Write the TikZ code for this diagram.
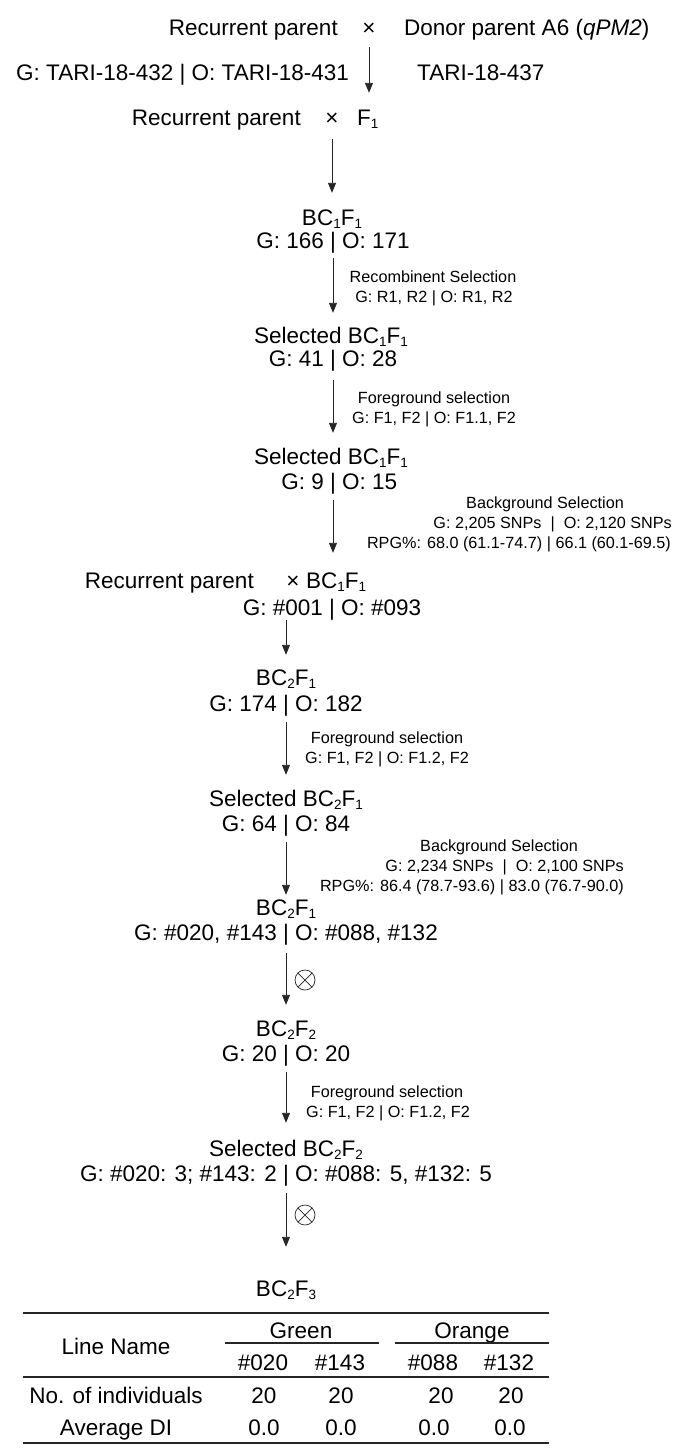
\documentclass[tikz,border=0pt]{standalone}
\usepackage{fontspec}
\setmainfont{Liberation Sans}
\usetikzlibrary{arrows.meta}
\newcommand{\gopair}[2]{\makebox[0pt][r]{#1\ }|\makebox[0pt][l]{\ #2}}
\newcommand{\sbs}[1]{\raisebox{-3pt}{\fontsize{13.5}{13.5}\selectfont #1}}
\tikzset{
  big/.style={font=\fontsize{22.5}{24}\selectfont, inner sep=0pt, text height=16pt, text depth=0pt},
  small/.style={font=\fontsize{16.2}{20}\selectfont, inner sep=0pt, text height=11.6pt, text depth=0pt},
  flow/.style={draw=black!85, line width=0.9pt, -{Triangle[length=10pt,width=8pt]}, shorten <=11pt, shorten >=15pt},
  rulethick/.style={line width=1.8pt, draw=black!85},
  rulethin/.style={line width=1.4pt, draw=black!85},
  selfing/.style={circle, draw=black!85, line width=0.7pt, minimum size=20pt, inner sep=0pt,
    path picture={\draw[line width=0.7pt, black!85]
      (path picture bounding box.north west) -- (path picture bounding box.south east)
      (path picture bounding box.north east) -- (path picture bounding box.south west);}}
}
\begin{document}
\begin{tikzpicture}[x=1pt,y=-1pt]
\fill[white] (0,0) rectangle (685,1454);
\useasboundingbox (0,0) rectangle (685,1454);

% top crosses
\node[big, anchor=east] (rp1) at (338,27) {Recurrent parent};
\node[big] (x1) at (369,27) {×};
\node[big, anchor=west] (donor) at (404,27) {Donor parent A6 (\textit{qPM2})};
\node[big, anchor=east] (gotari) at (349,72) {G: TARI-18-432 | O: TARI-18-431};
\node[big, anchor=west] (tari437) at (417,72) {TARI-18-437};
\node[big, anchor=east] (rp2) at (301,117) {Recurrent parent};
\node[big] (x2) at (332,117) {×};
\node[big, anchor=west] (f1) at (357,117) {F\sbs{1}};

% BC1
\node[big] (bc1) at (332,217) {BC\sbs{1}F\sbs{1}};
\node[big] (g166) at (333,240) {\gopair{G: 166}{O: 171}};
\node[small] (rec1) at (433,277) {Recombinent Selection};
\node[small] (rec2) at (434,297) {G: R1, R2 | O: R1, R2};
\node[big] (sel1) at (331,335) {Selected BC\sbs{1}F\sbs{1}};
\node[big] (g41) at (333,358) {\gopair{G: 41}{O: 28}};
\node[small] (fg1a) at (434,398) {Foreground selection};
\node[small] (fg1b) at (434,418) {G: F1, F2 | O: F1.1, F2};
\node[big] (sel2) at (331,456) {Selected BC\sbs{1}F\sbs{1}};
\node[big] (g9) at (333,481) {\gopair{G: 9}{O: 15}};
\node[small] (bg1a) at (545,503) {Background Selection};
\node[small, anchor=east] (bg1b) at (672,523) {G: 2,205 SNPs\ \ |\ \ O: 2,120 SNPs};
\node[small, anchor=east] (bg1c) at (671,543) {RPG\%: 68.0 (61.1-74.7) | 66.1 (60.1-69.5)};

% BC2
\node[big, anchor=east] (rp3) at (254,580) {Recurrent parent};
\node[big] (x3) at (293,580) {×};
\node[big, anchor=west] (bc1b) at (306,580) {BC\sbs{1}F\sbs{1}};
\node[big] (g001) at (332,607) {\gopair{G: \#001}{O: \#093}};
\node[big] (bc2) at (286,677) {BC\sbs{2}F\sbs{1}};
\node[big] (g174) at (286,703) {\gopair{G: 174}{O: 182}};
\node[small] (fg2a) at (387,738) {Foreground selection};
\node[small] (fg2b) at (387,758) {G: F1, F2 | O: F1.2, F2};
\node[big] (sel3) at (286,798) {Selected BC\sbs{2}F\sbs{1}};
\node[big] (g64) at (286,823) {\gopair{G: 64}{O: 84}};
\node[small] (bg2a) at (499,846) {Background Selection};
\node[small, anchor=east] (bg2b) at (624,866) {G: 2,234 SNPs\ \ |\ \ O: 2,100 SNPs};
\node[small, anchor=east] (bg2c) at (624,886) {RPG\%: 86.4 (78.7-93.6) | 83.0 (76.7-90.0)};
\node[big] (bc2b) at (286,907) {BC\sbs{2}F\sbs{1}};
\node[big] (g020) at (286,932) {\gopair{G: \#020, \#143}{O: \#088, \#132}};
\node[selfing] (s1) at (305,980) {};
\node[big] (bc22) at (286,1028) {BC\sbs{2}F\sbs{2}};
\node[big] (g20) at (286,1053) {\gopair{G: 20}{O: 20}};
\node[small] (fg3a) at (387,1092) {Foreground selection};
\node[small] (fg3b) at (388,1112) {G: F1, F2 | O: F1.2, F2};
\node[big] (sel4) at (286,1148) {Selected BC\sbs{2}F\sbs{2}};
\node[big] (gsel) at (286,1173) {\gopair{G: \#020: 3; \#143: 2}{O: \#088: 5, \#132: 5}};
\node[selfing] (s2) at (305,1215) {};
\node[big] (bc23) at (286,1288) {BC\sbs{2}F\sbs{3}};

% arrows
\draw[flow, shorten <=12pt, shorten >=16pt] (x1.south) -- (x1.south |- f1.north);
\draw[flow, shorten <=14pt, shorten >=16pt] (x2.south) -- (x2.south |- bc1.north);
\draw[flow, shorten <=10pt, shorten >=14pt] (g166.south) -- (g166.south |- sel1.north);
\draw[flow, shorten <=14pt] (g41.south) -- (g41.south |- sel2.north);
\draw[flow, shorten >=19pt] (g9.south) -- (g9.south |- bc1b.north);
\draw[flow, shorten <=5pt, shorten >=14pt] (g001.south -| bc2.north) -- (bc2.north);
\draw[flow] (g174.south) -- (g174.south |- sel3.north);
\draw[flow, shorten >=4pt] (g64.south) -- (g64.south |- bc2b.north);
\draw[flow, shorten <=13pt] (g020.south) -- (g020.south |- bc22.north);
\draw[flow, shorten >=17pt] (g20.south) -- (g20.south |- sel4.north);
\draw[flow, shorten <=12pt, shorten >=33pt] (gsel.south) -- (gsel.south |- bc23.north);

% table
\draw[rulethick] (23,1313) -- (549,1313);
\node[big] (tln) at (116,1346) {Line Name};
\node[big] (tgreen) at (301,1330) {Green};
\node[big] (torange) at (472,1330) {Orange};
\draw[rulethin] (225,1343) -- (379,1343);
\draw[rulethin] (395,1343) -- (549,1343);
\node[big] (t020) at (263,1362) {\#020};
\node[big] (t143) at (340,1362) {\#143};
\node[big] (t088) at (433,1362) {\#088};
\node[big] (t132) at (509,1362) {\#132};
\draw[rulethick] (23,1377) -- (549,1377);
\node[big] (tno) at (116,1395) {No. of individuals};
\node[big] (n1) at (264,1395) {20};
\node[big] (n2) at (341,1395) {20};
\node[big] (n3) at (441,1395) {20};
\node[big] (n4) at (511,1395) {20};
\node[big] (tavg) at (116,1427) {Average DI};
\node[big] (a1) at (264,1427) {0.0};
\node[big] (a2) at (341,1427) {0.0};
\node[big] (a3) at (434,1427) {0.0};
\node[big] (a4) at (510,1427) {0.0};
\draw[rulethick] (23,1443) -- (549,1443);
\end{tikzpicture}
\end{document}
